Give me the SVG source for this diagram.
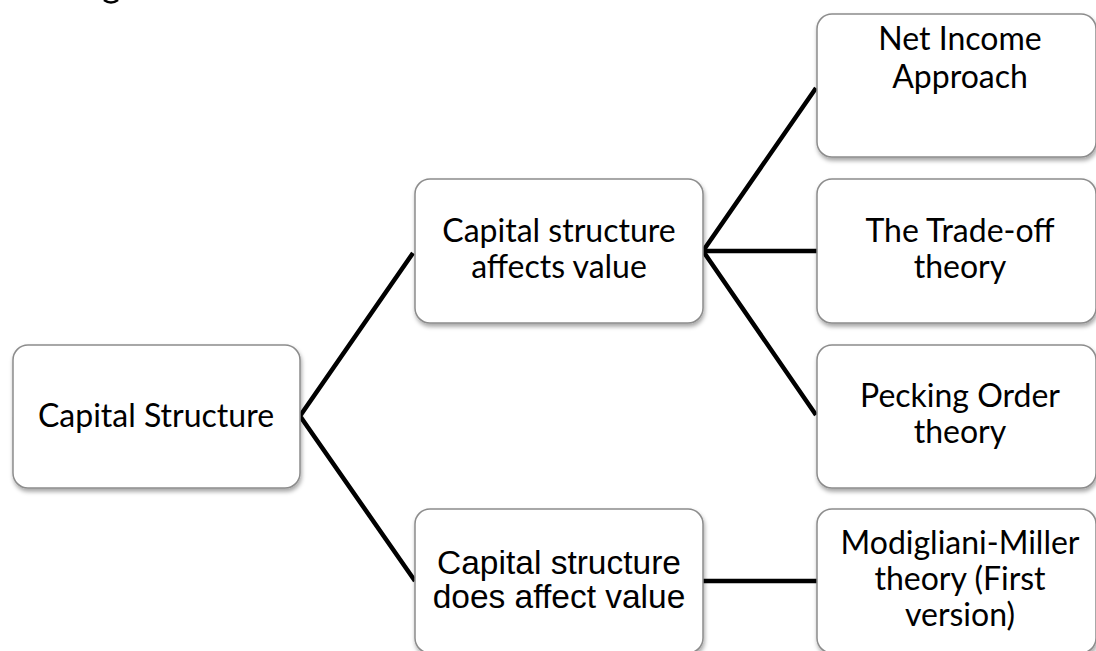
<svg xmlns="http://www.w3.org/2000/svg" width="1096" height="651" viewBox="0 0 1096 651">
<defs>
<filter id="sh" x="-10%" y="-10%" width="120%" height="130%">
<feDropShadow dx="1" dy="3" stdDeviation="2" flood-color="#000" flood-opacity="0.35"/>
</filter>
<style>
.box{fill:#fff;stroke:#8c8c8c;stroke-width:1.5;filter:url(#sh)}
.t{font-family:Lato,"Open Sans","Liberation Sans",sans-serif;font-size:32px;fill:#000;text-anchor:middle}
.a{font-family:"Liberation Sans",Arial,sans-serif;font-size:33.5px;fill:#000;text-anchor:middle}
.c{stroke:#000;stroke-width:4.5;fill:none;stroke-linejoin:miter}
</style>
</defs>
<rect width="1096" height="651" fill="#fff"/>
<g id="connectors">
<polyline class="c" points="413,253 300,416 415,581"/>
<polyline class="c" points="816,88 703,251 816,415"/>
<line class="c" x1="703" y1="251" x2="817" y2="251"/>
<line class="c" x1="703" y1="581" x2="817" y2="581"/>
</g>
<path d="M104,0 Q111,5 118,0" stroke="#000" stroke-width="2.5" fill="none"/>
<g id="n-capital-structure">
<rect class="box" x="13" y="345" width="287" height="143" rx="15"/>
<text class="t" x="156" y="427">Capital Structure</text>
</g>
<g id="n-affects">
<rect class="box" x="415" y="179" width="288" height="144" rx="15"/>
<text class="t" x="559" y="242">Capital structure</text>
<text class="t" x="559" y="278">affects value</text>
</g>
<g id="n-does-affect">
<rect class="box" x="415" y="509" width="288" height="144" rx="15"/>
<text class="a" x="559" y="574">Capital structure</text>
<text class="a" x="559" y="608">does affect value</text>
</g>
<g id="n-net-income">
<rect class="box" x="817" y="14" width="279" height="143" rx="15"/>
<text class="t" x="960" y="50">Net Income</text>
<text class="t" x="960" y="88">Approach</text>
</g>
<g id="n-trade-off">
<rect class="box" x="817" y="179" width="279" height="144" rx="15"/>
<text class="t" x="960" y="242">The Trade-off</text>
<text class="t" x="960" y="278">theory</text>
</g>
<g id="n-pecking">
<rect class="box" x="817" y="345" width="279" height="143" rx="15"/>
<text class="t" x="960" y="407">Pecking Order</text>
<text class="t" x="960" y="443">theory</text>
</g>
<g id="n-mm">
<rect class="box" x="817" y="509" width="279" height="144" rx="15"/>
<text class="t" x="960" y="554">Modigliani-Miller</text>
<text class="t" x="960" y="590">theory (First</text>
<text class="t" x="960" y="626">version)</text>
</g>
</svg>
